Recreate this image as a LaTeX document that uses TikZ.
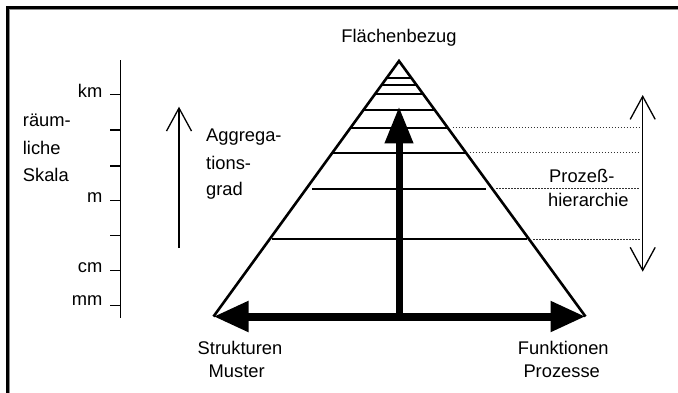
\documentclass[tikz,border=0pt]{standalone}
\usepackage{fontspec}
\setmainfont{Liberation Sans}
\usetikzlibrary{arrows.meta,calc}
\begin{document}
\begin{tikzpicture}[x=1bp,y=-1bp,
  lbl/.style={inner sep=0pt, text height=13.2bp, text depth=0pt, font=\fontsize{18.4}{22}\selectfont},
  edgeline/.style={line width=2.6bp, line join=miter},
  rung/.style={line width=1.8bp},
  guide/.style={line width=1bp, black!80, dash pattern=on 1.5bp off 1.5bp},
  thinline/.style={line width=1.3bp},
  barb/.tip={Straight Barb[length=23bp,width=25bp]},
  fat/.tip={Triangle[length=36bp,width=28bp]}
]
\useasboundingbox (0,0) rectangle (678,392);
\fill[white] (0,0) rectangle (678,392);
\clip (0,0) rectangle (678,392);
\draw[line width=3bp] (7.8,400) -- (7.8,7.3) -- (700,7.3);
\draw[line width=0.8bp, black!45] (9.8,400) -- (9.8,9.3) -- (700,9.3);

% pyramid
\coordinate (apex) at (399,61);
\coordinate (bl) at (213.5,316.5);
\coordinate (br) at (585.5,316.5);
\coordinate (mid) at (399,316.5);
\coordinate (vtip) at (399,106.7);
\coordinate (gx) at (640,0);
\draw[edgeline] (bl) -- (apex) -- (br);
\foreach \t/\s in {0.0654/0,0.0939/0,0.1303/0,0.1918/0,0.2614/0,0.3585/0,0.4998/6,0.6978/2}{
  \draw[rung, shorten <=\s bp, shorten >=\s bp] ($(apex)!\t!(bl)$) -- ($(apex)!\t!(br)$);
}
\foreach \t/\g in {0.2614/5,0.3585/4,0.4998/4,0.6978/4}{
  \coordinate (p) at ($(apex)!\t!(br)$);
  \draw[guide] ($(p)+(\g,0)$) -- (p -| gx);
}
\draw[line width=7bp, -{Triangle[length=36.6bp,width=27bp]}] (mid) -- (vtip);
\draw[line width=8bp, {Triangle[length=35bp,width=29bp]}-{Triangle[length=35bp,width=29bp]}] (bl) -- (br);

% right double arrow
\coordinate (pt) at (642.7,95);
\coordinate (pb) at (642.7,271.7);
\draw[thinline, barb-barb] (pt) -- (pb);

% aggregation arrow
\coordinate (ab) at (179,248);
\coordinate (at) at (179,106.7);
\draw[thinline, -barb] (ab) -- (at);

% scale
\coordinate (st) at (120.7,60);
\coordinate (sb) at (120.7,318);
\draw[thinline] (st) -- (sb);
\foreach \y in {94.3,130,166,200.7,235.7,270.7,305.7}{
  \draw[thinline] (110,\y) -- (st |- 0,\y);
}

% labels
\node[lbl] (fb) at (399,35.5) {Flächenbezug};
\node[lbl, anchor=east] (km) at (102.5,90.7) {km};
\node[lbl, anchor=east] (m) at (102.5,196) {m};
\node[lbl, anchor=east] (cm) at (102.5,265.7) {cm};
\node[lbl, anchor=east] (mm) at (102.5,299) {mm};
\node[lbl, anchor=west] (r1) at (22.7,120) {räum-};
\node[lbl, anchor=west] (r2) at (22.7,147.5) {liche};
\node[lbl, anchor=west] (r3) at (22.7,175) {Skala};
\node[lbl, anchor=west] (a1) at (206,135) {Aggrega-};
\node[lbl, anchor=west] (a2) at (206,162.5) {tions-};
\node[lbl, anchor=west] (a3) at (206,189) {grad};
\node[lbl, anchor=west] (h1) at (549,175.5) {Prozeß-};
\node[lbl, anchor=west] (h2) at (548,200) {hierarchie};
\node[lbl] (s1) at (240,348) {Strukturen};
\node[lbl] (s2) at (236.7,371) {Muster};
\node[lbl] (f1) at (563.3,348) {Funktionen};
\node[lbl] (f2) at (561.7,371) {Prozesse};
\end{tikzpicture}
\end{document}
